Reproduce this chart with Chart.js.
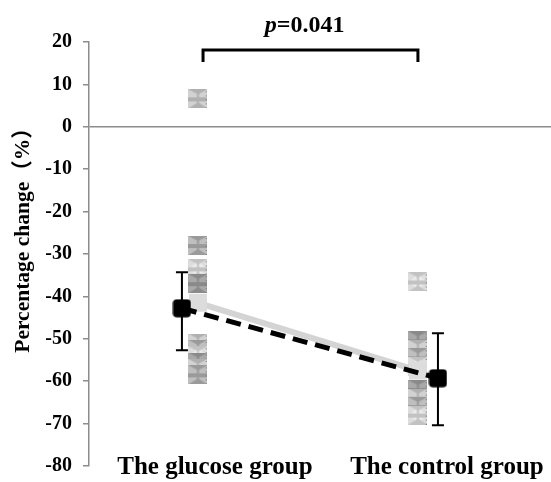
<!DOCTYPE html>
<html>
<head>
<meta charset="utf-8">
<script src="https://cdn.jsdelivr.net/npm/chart.js@4/dist/chart.umd.min.js"></script>
<style>
  html, body { margin: 0; padding: 0; background: #fff; }
  #wrap { width: 551px; height: 482px; position: relative; }
</style>
</head>
<body>
<div id="wrap"><canvas id="c" width="551" height="482"></canvas></div>
<script>
// ---- data ----
const categories = ['The glucose group', 'The control group'];
const glucoseValues = [6.6, -28.0, -33.5, -37.0, -51.0, -52.5, -54.0, -55.5, -57.0, -58.5];
const controlValues = [-36.6, -50.5, -52.5, -54.5, -56.5, -62.0, -64.0, -66.0, -68.0];
const medianValues = [-41.5, -57.5];
const meanValues = [-42.8, -59.3];
const errUpper = [-34.3, -48.7];
const errLower = [-52.7, -70.4];
const yTickValues = [20, 10, 0, -10, -20, -30, -40, -50, -60, -70, -80];
const pText = ['p', '=0.041'];
const yTitle = 'Percentage change（%）';

// ---- layout constants ----
const colX = [1, 2];
const meanX = [0.927, 2.091];
const labelX = [1.077, 2.132];
const bracket = { x1: 1.023, x2: 2.0, yTop: 18.1, yBottom: 15.3 };
const FONT = "'Liberation Serif', 'Times New Roman', 'Noto Sans CJK SC', serif";

function makeMarker(kind) {
  const c = document.createElement('canvas');
  c.width = 19; c.height = 19;
  const g = c.getContext('2d');
  const bases = ['#d2d2d2', '#bfbfbf', '#dddddd', '#a9a9a9'];
  const darks = ['#b0b0b0', '#9a9a9a', '#c2c2c2', '#8a8a8a'];
  g.fillStyle = bases[kind]; g.fillRect(0, 0, 19, 19);
  if (kind === 2) {
    g.fillStyle = '#ebebeb';
    g.beginPath(); g.moveTo(9.5, 1); g.lineTo(18, 9.5); g.lineTo(9.5, 18); g.lineTo(1, 9.5); g.closePath(); g.fill();
  }
  g.fillStyle = darks[kind];
  g.beginPath(); g.moveTo(0, 19); g.lineTo(9.5, 13); g.lineTo(19, 19); g.closePath(); g.fill();
  g.beginPath(); g.moveTo(0, 0); g.lineTo(9.5, 5); g.lineTo(19, 0); g.closePath(); g.fill();
  g.fillRect(0, 8, 19, 4);
  g.fillRect(8.5, 0, 2, 19);
  g.fillStyle = '#777';
  for (let y = 2; y < 19; y += 4) g.fillRect(17.5, y, 1.5, 1);
  return c;
}
const markers = [makeMarker(0), makeMarker(1), makeMarker(2), makeMarker(3)];

function makeMeanMarker() {
  const c = document.createElement('canvas');
  c.width = 19; c.height = 19;
  const g = c.getContext('2d');
  g.fillStyle = '#000';
  g.beginPath();
  if (g.roundRect) g.roundRect(0.5, 0.5, 18, 18, 4); else g.rect(0.5, 0.5, 18, 18);
  g.fill();
  return c;
}
const meanMarker = makeMeanMarker();

function zeroMargins(s) {
  s.paddingLeft = 0; s.paddingRight = 0; s.paddingTop = 0; s.paddingBottom = 0;
}

const overlay = {
  id: 'overlay',
  beforeDatasetsDraw(chart) {
    const { ctx, scales: { x, y } } = chart;
    ctx.save();
    ctx.strokeStyle = '#000';
    ctx.lineWidth = 2;
    for (let i = 0; i < meanValues.length; i++) {
      const px = x.getPixelForValue(meanX[i]);
      const top = y.getPixelForValue(errUpper[i]);
      const bot = y.getPixelForValue(errLower[i]);
      ctx.beginPath();
      ctx.moveTo(px, top); ctx.lineTo(px, bot);
      ctx.moveTo(px - 6, top); ctx.lineTo(px + 6, top);
      ctx.moveTo(px - 6, bot); ctx.lineTo(px + 6, bot);
      ctx.stroke();
    }
    ctx.restore();
  },
  afterDraw(chart) {
    const { ctx, scales: { x } } = chart;
    ctx.save();
    ctx.fillStyle = '#000';
    ctx.textBaseline = 'alphabetic';
    const fItal = 'italic bold 24px ' + FONT;
    const fBold = 'bold 24px ' + FONT;
    ctx.font = fItal; const w1 = ctx.measureText(pText[0]).width;
    ctx.font = fBold; const w2 = ctx.measureText(pText[1]).width;
    const cx = x.getPixelForValue(1.485);
    let sx = cx - (w1 + w2) / 2;
    ctx.font = fItal; ctx.fillText(pText[0], sx, 32);
    ctx.font = fBold; ctx.fillText(pText[1], sx + w1, 32);
    ctx.translate(23, 235);
    ctx.rotate(-Math.PI / 2);
    ctx.font = 'bold 21.5px ' + FONT;
    ctx.textAlign = 'center';
    ctx.textBaseline = 'middle';
    ctx.fillText(yTitle, 0, 0);
    ctx.restore();
  }
};

new Chart(document.getElementById('c'), {
  type: 'scatter',
  data: {
    datasets: [
      {
        label: 'mean',
        data: meanValues.map((v, i) => ({ x: meanX[i], y: v })),
        showLine: true,
        borderColor: '#000',
        borderWidth: 5,
        borderDash: [15, 8],
        pointStyle: meanMarker,
        pointRadius: 10
      },
      {
        label: 'median',
        data: medianValues.map((v, i) => ({ x: colX[i], y: v })),
        showLine: true,
        borderColor: '#d4d4d4',
        borderWidth: 6,
        pointStyle: 'rect',
        pointRadius: 12.7,
        pointBackgroundColor: '#dcdcdc',
        pointBorderWidth: 0
      },
      {
        label: categories[0],
        data: glucoseValues.map(v => ({ x: colX[0], y: v })),
        pointStyle: ctx => markers[ctx.dataIndex % markers.length]
      },
      {
        label: categories[1],
        data: controlValues.map(v => ({ x: colX[1], y: v })),
        pointStyle: ctx => markers[(ctx.dataIndex + 2) % markers.length]
      },
      {
        label: 'bracket',
        data: [
          { x: bracket.x1, y: bracket.yBottom }, { x: bracket.x1, y: bracket.yTop },
          { x: bracket.x2, y: bracket.yTop }, { x: bracket.x2, y: bracket.yBottom }
        ],
        showLine: true,
        borderColor: '#000',
        borderWidth: 3,
        borderJoinStyle: 'miter',
        pointRadius: 0
      }
    ]
  },
  options: {
    responsive: false,
    animation: false,
    events: [],
    layout: { autoPadding: false, padding: { top: 42, right: 0, bottom: 0, left: 0 } },
    plugins: { legend: { display: false }, tooltip: { enabled: false }, title: { display: false } },
    scales: {
      x: {
        type: 'linear',
        min: 0.5045,
        max: 2.605,
        grid: { display: false, drawTicks: false },
        border: { display: false },
        afterBuildTicks: s => { s.ticks = labelX.map(v => ({ value: v })); },
        afterFit: s => { s.height = 16; zeroMargins(s); },
        ticks: {
          autoSkip: false,
          maxRotation: 0,
          mirror: true,
          padding: -17,
          color: '#000',
          font: { family: FONT, size: 25, weight: 'bold' },
          callback: (v, i) => categories[i]
        }
      },
      y: {
        min: -80,
        max: 20,
        afterBuildTicks: s => { s.ticks = yTickValues.map(v => ({ value: v })); },
        afterFit: s => { s.width = 89; zeroMargins(s); },
        grid: {
          color: c => (c.tick && c.tick.value === 0) ? '#8c8c8c' : 'rgba(0,0,0,0)',
          lineWidth: 1.5,
          tickColor: '#8c8c8c',
          tickLength: 6,
          drawTicks: true
        },
        border: { display: true, color: '#8c8c8c', width: 1.5 },
        ticks: {
          padding: 11,
          color: '#000',
          font: { family: FONT, size: 20, weight: 'bold' }
        }
      }
    }
  },
  plugins: [overlay]
});
</script>
</body>
</html>
